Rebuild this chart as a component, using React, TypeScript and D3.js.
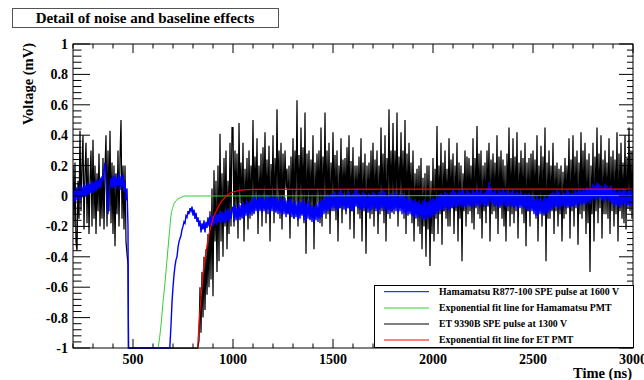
import React from "react";
import * as d3 from "d3";

// ---------- data ----------
const xTickValues = [500, 1000, 1500, 2000, 2500, 3000];
const yTickValues = [1, 0.8, 0.6, 0.4, 0.2, 0, -0.2, -0.4, -0.6, -0.8, -1];

const sampleStep = 5; // ns

// ET 9390B trace (black)
const blackPreStart = 200;
const blackPreValues = [
  0.2, -0.2, 0.22, -0.3, -0.36, 0.1, -0.15, 0.43, -0.1, 0.2,
  0.4, -0.22, 0.15, 0.35, -0.18, 0.25, -0.25, 0.1, 0.3, -0.2,
  0.37, -0.15, 0.2, -0.25, 0.15, -0.1, 0.28, -0.2, 0.12, -0.15,
  0.25, -0.22, 0.18, 0.4, -0.2, 0.3, -0.1, 0.43, -0.18, 0.22,
  -0.25, 0.2, -0.33, 0.15, -0.12, 0.3, -0.2, 0.25, 0.5, -0.15,
  0.2, -0.22, 0.2, -0.3, -0.38, -0.45,
];
const blackPulseTimes = [478, 824];
const blackPulseValues = [-1.6, -1.6];
const blackRecoveryStart = 830;
const blackRecoveryValues = [
  -0.95, -0.6, -0.9, -0.5, -0.8, -0.4, -0.75, -0.35, -0.65, -0.25,
  -0.6, -0.1, -0.55, 0.05, -0.66, 0.17, -0.3, 0.1, -0.5, 0.2,
  -0.43, 0.41, -0.3, 0.15, -0.4, 0.25, -0.2, 0.3, -0.35, 0.1,
  -0.25, 0.35, -0.2, 0.45,
];
const blackTailStart = 1000;
const blackTailValues = [
  0.45, -0.2, 0.3, -0.1, 0.28, -0.28, 0.48, -0.05, 0.22, -0.15, 0.35, -0.3, 0.18, -0.1, 0.25, -0.22, 0.3, -0.15, 0.2, -0.08,
  0.5, -0.12, 0.26, -0.05, 0.38, -0.25, 0.2, -0.1, 0.28, -0.2, 0.32, -0.08, 0.42, -0.18, 0.24, -0.12, 0.33, -0.3, 0.21, -0.06,
  0.4, -0.18, 0.25, -0.1, 0.57, -0.05, 0.3, -0.15, 0.35, -0.22, 0.28, -0.08, 0.3, 0.05, 0.18, -0.12, 0.2, -0.28, 0.26, -0.1,
  0.38, -0.15, 0.3, -0.05, 0.63, -0.2, 0.27, -0.1, 0.45, -0.12, 0.32, -0.18, 0.55, -0.38, 0.28, -0.06, 0.3, -0.15, 0.24, -0.1,
  0.4, -0.35, 0.22, -0.1, 0.28, -0.05, 0.3, -0.18, 0.45, -0.2, 0.26, -0.08, 0.55, -0.15, 0.3, -0.12, 0.35, -0.25, 0.22, -0.06,
  0.42, -0.1, 0.27, -0.16, 0.3, -0.3, 0.2, -0.08, 0.38, -0.18, 0.24, -0.05, 0.25, -0.12, 0.32, -0.08, 0.4, -0.22, 0.23, -0.1,
  0.32, -0.28, 0.2, -0.06, 0.2, -0.12, 0.26, -0.15, 0.38, -0.3, 0.22, -0.1, 0.28, -0.38, 0.2, -0.08, 0.22, -0.15, 0.3, -0.12,
  0.35, -0.2, 0.24, -0.08, 0.3, -0.25, 0.2, -0.12, 0.45, -0.1, 0.28, -0.18, 0.4, -0.3, 0.25, -0.06, 0.57, -0.15, 0.3, -0.1,
  0.48, -0.12, 0.3, -0.08, 0.55, -0.2, 0.26, -0.05, 0.42, -0.08, 0.3, -0.15, 0.5, -0.25, 0.28, -0.1, 0.35, -0.1, 0.22, -0.18,
  0.3, -0.3, 0.15, -0.12, 0.18, -0.2, 0.2, -0.25, 0.25, -0.35, 0.12, -0.2, 0.15, -0.4, 0.2, -0.22, 0.2, -0.46, 0.1, -0.25,
  0.25, -0.3, 0.18, -0.15, 0.46, -0.25, 0.2, -0.12, 0.35, -0.32, 0.22, -0.1, 0.3, -0.15, 0.18, -0.2, 0.38, -0.2, 0.24, -0.08,
  0.28, -0.25, 0.2, -0.1, 0.35, -0.3, 0.22, -0.15, 0.2, -0.43, 0.15, -0.1, 0.3, -0.2, 0.26, -0.12, 0.25, -0.1, 0.2, -0.18,
  0.38, -0.22, 0.25, -0.08, 0.46, -0.12, 0.28, -0.15, 0.3, -0.28, 0.2, -0.1, 0.22, -0.18, 0.3, -0.06, 0.35, -0.3, 0.24, -0.12,
  0.28, -0.1, 0.22, -0.15, 0.4, -0.25, 0.26, -0.08, 0.3, -0.15, 0.24, -0.2, 0.2, -0.3, 0.28, -0.1, 0.45, -0.2, 0.25, -0.12,
  0.38, -0.18, 0.26, -0.1, 0.42, -0.28, 0.22, -0.06, 0.3, -0.12, 0.25, -0.18, 0.35, -0.33, 0.22, -0.1, 0.25, -0.2, 0.28, -0.08,
  0.3, -0.1, 0.24, -0.15, 0.4, -0.3, 0.2, -0.1, 0.33, -0.2, 0.26, -0.12, 0.45, -0.43, 0.22, -0.15, 0.3, -0.15, 0.2, -0.1,
  0.35, -0.25, 0.2, -0.1, 0.22, -0.2, 0.18, -0.12, 0.2, -0.3, 0.16, -0.15, 0.25, -0.12, 0.2, -0.08, 0.38, -0.28, 0.24, -0.1,
  0.4, -0.2, 0.26, -0.08, 0.3, -0.32, 0.22, -0.12, 0.42, -0.15, 0.3, -0.1, 0.35, -0.25, 0.24, -0.18, 0.28, -0.5, 0.2, -0.12,
  0.35, -0.3, 0.26, -0.1, 0.45, -0.18, 0.28, -0.08, 0.4, -0.28, 0.24, -0.12, 0.3, -0.12, 0.22, -0.15, 0.38, -0.25, 0.26, -0.1,
  0.3, -0.2, 0.24, -0.12, 0.42, -0.3, 0.28, -0.1, 0.35, -0.15, 0.22, -0.18, 0.4, -0.22, 0.26, -0.08, 0.45, -0.1, 0.3, -0.15,
  0.3,
];

// Hamamatsu R877-100 trace (blue)
const bluePreStart = 200;
const bluePreValues = [
  -0.06, 0.04, -0.04, 0.06, -0.03, 0.05, -0.02, 0.07, -0.03, 0.06,
  -0.01, 0.08, 0.0, 0.07, -0.01, 0.09, 0.01, 0.08, 0.02, 0.1,
  0.02, 0.09, 0.03, 0.11, 0.04, 0.1, 0.05, 0.12, 0.06, 0.13,
  0.1, 0.17, 0.22, 0.12, -0.05, -0.12, 0.0, 0.06, 0.12, 0.05,
  0.13, 0.06, 0.14, 0.05, 0.12, 0.07, 0.15, 0.04, 0.13, 0.06,
  0.14, 0.03, 0.1, -0.03, 0.05, -0.2,
];
const bluePulseTimes = [477, 684];
const bluePulseValues = [-1.6, -1.6];
const blueRecoveryStart = 690;
const blueRecoveryValues = [
  -0.85, -0.7, -0.6, -0.52, -0.46, -0.42, -0.4, -0.34, -0.3, -0.28,
  -0.26, -0.22, -0.2, -0.17, -0.18, -0.13, -0.14, -0.1, -0.12, -0.08,
  -0.1, -0.07, -0.13, -0.09, -0.15, -0.11, -0.17, -0.14, -0.2, -0.16,
  -0.24, -0.18, -0.22, -0.16, -0.24, -0.17, -0.21, -0.14, -0.2, -0.13,
  -0.19, -0.12, -0.2, -0.14, -0.18, -0.11, -0.19, -0.12, -0.17, -0.1,
  -0.18, -0.1, -0.17, -0.11, -0.18, -0.09, -0.16, -0.08, -0.17, -0.1,
  -0.15, -0.09,
];
const blueTailStart = 1000;
const blueTailValues = [
  -0.07, -0.17, -0.06, -0.16, -0.08, -0.15, -0.05, -0.16, -0.06, -0.14, -0.04, -0.15, -0.05, -0.13, -0.03, -0.14, -0.04, -0.12, -0.03, -0.13,
  -0.01, -0.11, 0.0, -0.1, -0.02, -0.12, 0.01, -0.09, -0.01, -0.11, 0.0, -0.1, -0.02, -0.11, 0.01, -0.09, 0.0, -0.12, -0.01, -0.1,
  0.01, -0.1, -0.01, -0.11, 0.0, -0.12, -0.02, -0.11, 0.0, -0.13, -0.02, -0.12, -0.01, -0.14, -0.03, -0.12, -0.02, -0.13, -0.01, -0.14,
  -0.04, -0.15, -0.03, -0.14, -0.05, -0.16, -0.03, -0.15, -0.04, -0.13, -0.02, -0.16, -0.04, -0.17, -0.05, -0.15, -0.03, -0.16, -0.06, -0.17,
  -0.06, -0.18, -0.07, -0.16, -0.05, -0.17, -0.04, -0.15, -0.03, -0.14, -0.02, -0.12, 0.0, -0.11, 0.01, -0.1, 0.0, -0.09, 0.02, -0.1,
  0.02, -0.08, 0.03, -0.09, 0.01, -0.1, 0.03, -0.08, 0.04, -0.07, 0.02, -0.09, 0.0, -0.1, 0.02, -0.08, 0.03, -0.09, 0.01, -0.1,
  0.02, -0.1, 0.04, -0.07, 0.05, -0.08, 0.02, -0.09, 0.01, -0.1, 0.03, -0.08, 0.02, -0.09, 0.0, -0.11, 0.02, -0.1, 0.01, -0.09,
  0.03, -0.08, 0.02, -0.1, 0.01, -0.11, 0.03, -0.09, 0.02, -0.08, 0.04, -0.1, 0.03, -0.09, 0.0, -0.12, 0.01, -0.1, 0.02, -0.11,
  0.01, -0.09, 0.03, -0.1, 0.02, -0.11, 0.0, -0.1, 0.01, -0.12, 0.02, -0.11, -0.01, -0.12, 0.0, -0.13, -0.02, -0.12, -0.01, -0.13,
  -0.03, -0.14, -0.02, -0.15, -0.04, -0.14, -0.03, -0.13, -0.05, -0.16, -0.03, -0.15, -0.02, -0.16, -0.04, -0.14, -0.03, -0.15, -0.02, -0.14,
  -0.01, -0.13, -0.02, -0.12, 0.0, -0.11, 0.01, -0.1, 0.02, -0.09, 0.01, -0.1, 0.03, -0.08, 0.02, -0.09, 0.01, -0.1, 0.03, -0.08,
  0.04, -0.07, 0.03, -0.08, 0.02, -0.07, 0.04, -0.06, 0.03, -0.08, 0.05, -0.07, 0.02, -0.08, 0.04, -0.06, 0.03, -0.07, 0.02, -0.08,
  0.04, -0.06, 0.03, -0.07, 0.05, -0.06, 0.03, -0.08, 0.04, -0.05, 0.02, -0.07, 0.03, -0.06, 0.05, -0.07, 0.09, -0.04, 0.06, -0.05,
  0.03, -0.07, 0.04, -0.06, 0.02, -0.08, 0.04, -0.07, 0.03, -0.06, 0.05, -0.06, 0.03, -0.08, 0.04, -0.07, 0.02, -0.06, 0.03, -0.07,
  0.04, -0.08, 0.02, -0.07, 0.03, -0.09, 0.02, -0.08, 0.03, -0.07, 0.01, -0.08, 0.02, -0.09, 0.01, -0.1, 0.02, -0.09, 0.0, -0.1,
  -0.01, -0.12, -0.02, -0.13, 0.0, -0.14, -0.02, -0.12, -0.01, -0.11, -0.03, -0.13, 0.0, -0.12, -0.01, -0.11, 0.01, -0.1, 0.02, -0.09,
  0.03, -0.08, 0.02, -0.07, 0.04, -0.08, 0.03, -0.09, 0.01, -0.07, 0.03, -0.06, 0.02, -0.08, 0.04, -0.07, 0.03, -0.08, 0.02, -0.07,
  0.02, -0.07, 0.04, -0.06, 0.03, -0.08, 0.05, -0.05, 0.03, -0.06, 0.05, -0.05, 0.04, -0.06, 0.06, -0.04, 0.05, -0.05, 0.06, -0.03,
  0.08, -0.02, 0.07, -0.03, 0.09, -0.02, 0.08, -0.01, 0.07, -0.03, 0.06, -0.04, 0.08, -0.02, 0.07, -0.03, 0.06, -0.04, 0.07, -0.05,
  0.04, -0.07, 0.05, -0.06, 0.03, -0.07, 0.04, -0.08, 0.03, -0.06, 0.05, -0.05, 0.04, -0.07, 0.03, -0.06, 0.05, -0.07, 0.04, -0.06,
  0.03,
];

// Exponential fit for Hamamatsu (green)
const greenFitTimes = [626, 640, 650, 660, 670, 680, 690, 700, 710, 720, 740, 760, 3000];
const greenFitValues = [-1.05, -0.85, -0.7, -0.57, -0.42, -0.27, -0.13, -0.07, -0.04, -0.025, -0.01, 0.0, 0.003];

// Exponential fit for ET (red)
const redFitTimes = [823, 835, 845, 852, 865, 877, 890, 902, 920, 935, 960, 985, 1020, 1050, 1100, 3000];
const redFitValues = [-1.05, -0.75, -0.6, -0.49, -0.37, -0.27, -0.2, -0.14, -0.09, -0.05, -0.01, 0.018, 0.033, 0.04, 0.044, 0.045];

const legendLabels = [
  "Hamamatsu R877-100 SPE pulse at 1600 V",
  "Exponential fit line for Hamamatsu PMT",
  "ET 9390B SPE pulse at 1300 V",
  "Exponential fit line for ET PMT",
];
const legendColors = ["#0000ff", "#33cc33", "#000000", "#ff0000"];

// ---------- helpers ----------
type Pt = { t: number; v: number };
const sampled = (t0: number, vals: number[]): Pt[] =>
  vals.map((v, i) => ({ t: t0 + i * sampleStep, v }));
const paired = (ts: number[], vs: number[]): Pt[] => ts.map((t, i) => ({ t, v: vs[i] }));

const blackData: Pt[] = [
  ...sampled(blackPreStart, blackPreValues),
  ...paired(blackPulseTimes, blackPulseValues),
  ...sampled(blackRecoveryStart, blackRecoveryValues),
  ...sampled(blackTailStart, blackTailValues),
];
const blueData: Pt[] = [
  ...sampled(bluePreStart, bluePreValues),
  ...paired(bluePulseTimes, bluePulseValues),
  ...sampled(blueRecoveryStart, blueRecoveryValues),
  ...sampled(blueTailStart, blueTailValues),
];
const greenData = paired(greenFitTimes, greenFitValues);
const redData = paired(redFitTimes, redFitValues);

const FONT = "'Liberation Serif', 'Times New Roman', serif";

export default function App() {
  const W = 644, H = 380;
  const L = 73, R = 633, T = 44, B = 348;
  const x = d3.scaleLinear().domain([200, 3000]).range([L, R]);
  const y = d3.scaleLinear().domain([-1, 1]).range([B, T]).clamp(true);
  const line = d3.line<Pt>().x((d) => x(d.t)).y((d) => y(d.v));
  const smooth = d3.line<Pt>().x((d) => x(d.t)).y((d) => y(d.v)).curve(d3.curveMonotoneX);

  const xTicks = d3.range(200, 3001, 100);
  const yTicks = d3.range(0, 51).map((i) => -1 + i * 0.04);

  const legY = [291.7, 308, 324, 340];

  return (
    <svg width={W} height={H} style={{ position: "absolute", left: 0, top: 0, background: "#fff" }}>
      <rect x={0} y={0} width={W} height={H} fill="#fff" />
      <defs>
        <clipPath id="frameClip">
          <rect x={L} y={T - 1} width={R - L} height={B - T + 2} />
        </clipPath>
      </defs>

      {/* traces */}
      <g clipPath="url(#frameClip)" fill="none">
        <path d={line(blackData) || ""} stroke="#000" strokeWidth={1.25} />
        <path d={line(blueData) || ""} stroke="#0000ff" strokeWidth={1.4} />
        <path d={smooth(greenData) || ""} stroke="#33cc33" strokeWidth={1} />
        <path d={smooth(redData) || ""} stroke="#ff0000" strokeWidth={1.2} />
      </g>

      {/* frame */}
      <rect x={L} y={T} width={R - L} height={B - T} fill="none" stroke="#000" strokeWidth={1} />

      {/* x ticks */}
      {xTicks.map((t) => {
        const major = t % 500 === 0;
        const len = major ? 9 : 4.5;
        const px = x(t);
        return (
          <g key={"xt" + t} stroke="#000" strokeWidth={1}>
            <line x1={px} x2={px} y1={B} y2={B - len} />
            <line x1={px} x2={px} y1={T} y2={T + len} />
          </g>
        );
      })}
      {/* y ticks */}
      {yTicks.map((v, i) => {
        const major = i % 5 === 0;
        const py = y(v);
        return (
          <g key={"yt" + i} stroke="#000" strokeWidth={1}>
            <line x1={L} x2={L + (major ? 17 : 8.5)} y1={py} y2={py} />
            <line x1={R} x2={R - (major ? 14 : 6)} y1={py} y2={py} />
          </g>
        );
      })}

      {/* tick labels */}
      <g fontFamily={FONT} fontWeight="bold" fontSize={14} fill="#000">
        {xTickValues.map((t) => (
          <text key={"xl" + t} x={x(t)} y={364} textAnchor="middle">
            {t}
          </text>
        ))}
        {yTickValues.map((v) => (
          <text key={"yl" + v} x={68} y={y(v) + 5} textAnchor="end">
            {d3.format("~g")(v).replace("−", "-")}
          </text>
        ))}
        <text x={632} y={377.5} textAnchor="end" fontSize={14.5}>Time (ns)</text>
        <text transform="translate(33,43) rotate(-90)" textAnchor="end" fontSize={14.5}>Voltage (mV)</text>
      </g>

      {/* title box */}
      <rect x={12.5} y={8.5} width={266} height={19} fill="#fff" stroke="#555" strokeWidth={1} />
      <text x={145} y={23} textAnchor="middle" fontFamily={FONT} fontWeight="bold" fontSize={15}>
        Detail of noise and baseline effects
      </text>

      {/* legend */}
      <rect x={374.5} y={285.5} width={259} height={62} fill="#fff" stroke="#000" strokeWidth={1} />
      {legendLabels.map((lab, i) => (
        <g key={"lg" + i}>
          <line x1={384} x2={429} y1={legY[i]} y2={legY[i]} stroke={legendColors[i]} strokeWidth={1} />
          <text x={439} y={legY[i] + 3.3} fontFamily={FONT} fontWeight="bold" fontSize={9.8}>
            {lab}
          </text>
        </g>
      ))}
    </svg>
  );
}
